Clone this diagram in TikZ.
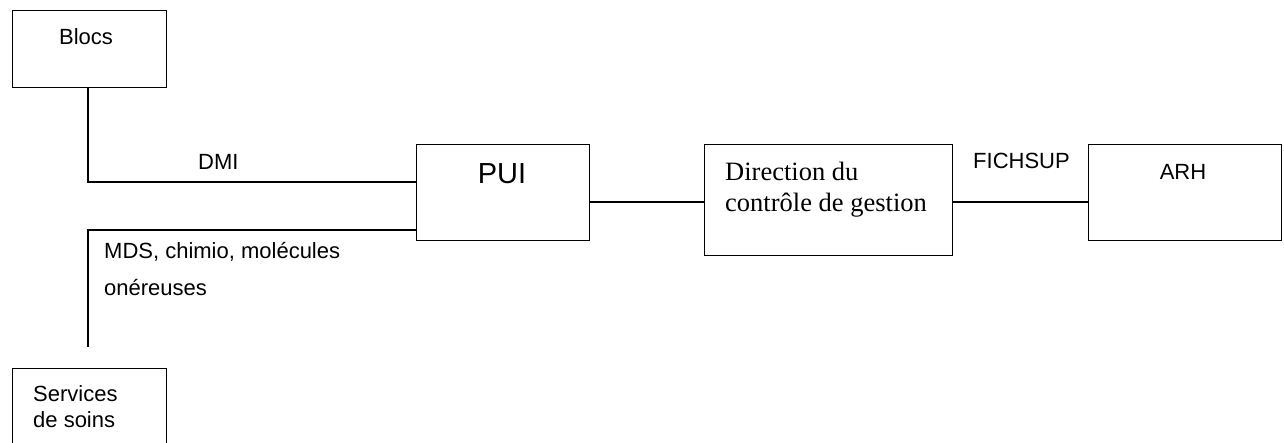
\documentclass[tikz,border=0pt]{standalone}
\usepackage{fontspec}
\newfontfamily\sansfam{Liberation Sans}
\newfontfamily\seriffam{Liberation Serif}
\begin{document}
\begin{tikzpicture}[x=1pt,y=-1pt,
  box/.style={draw, line width=1.3pt, rectangle, inner sep=0pt, anchor=north west},
  wire/.style={line width=1.3pt},
  lbl/.style={inner sep=0pt, font=\sansfam\fontsize{22}{26}\selectfont},
  big/.style={inner sep=0pt, font=\sansfam\fontsize{29}{34}\selectfont},
  serif/.style={inner sep=0pt, font=\seriffam\fontsize{26.5}{31}\selectfont}]
\useasboundingbox[fill=white] (0,0) rectangle (1284,442);
\begin{scope}
\clip (0,0) rectangle (1284,442);
% boxes
\node[box, minimum width=154, minimum height=77] (blocs) at (12,10) {};
\node[box, minimum width=173, minimum height=96] (pui) at (416,144) {};
\node[box, minimum width=248, minimum height=111] (dir) at (704,144) {};
\node[box, minimum width=193, minimum height=96] (arh) at (1088,144) {};
\node[box, minimum width=154, minimum height=100] (soins) at (12,368) {};
\end{scope}
% box texts
\node[lbl, anchor=base] (blocst) at (86,44) {Blocs};
\node[big, anchor=base] (puit) at (502,183) {PUI};
\node[serif, anchor=base west] (dirt1) at (725,180) {Direction du};
\node[serif, anchor=base west] (dirt2) at (725,211) {contrôle de gestion};
\node[lbl, anchor=base] (arht) at (1183,179) {ARH};
\node[lbl, anchor=base west] (soinst1) at (33,401) {Services};
\node[lbl, anchor=base west] (soinst2) at (33,427) {de soins};
% connector labels
\node[lbl, anchor=base west] (dmi) at (198,169) {DMI};
\node[lbl, anchor=base west] (mds1) at (104,258) {MDS, chimio, molécules};
\node[lbl, anchor=base west] (mds2) at (104,295) {onéreuses};
\node[lbl, anchor=base west] (fich) at (973,168) {FICHSUP};
% connectors
\coordinate (mdsturn) at (88,230);
\coordinate (mdsend) at (88,347);
\draw[wire] (blocs.south -| mdsturn) |- (pui.west |- 0,182);
\draw[wire] (pui.west |- mdsturn) -- (mdsturn) -- (mdsend);
\draw[wire] (pui.east |- 0,202) -- (dir.west |- 0,202);
\draw[wire] (dir.east |- 0,202) -- (arh.west |- 0,202);
\end{tikzpicture}
\end{document}
